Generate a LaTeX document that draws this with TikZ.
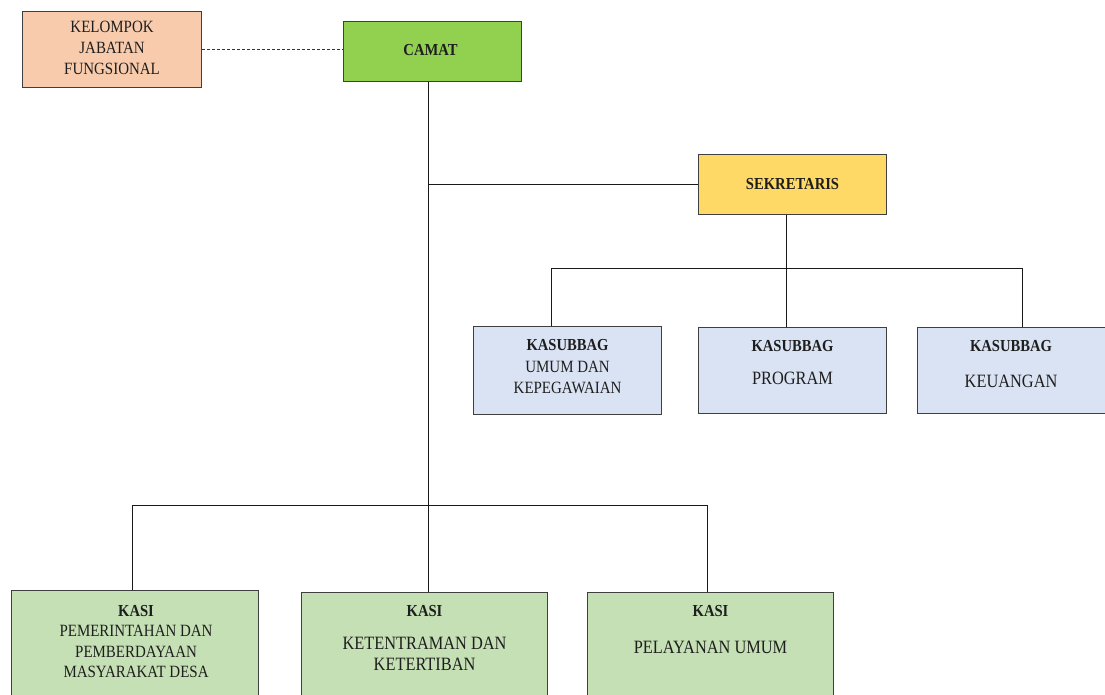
\documentclass[tikz,border=0pt]{standalone}
\usepackage{fontspec}
\setmainfont{Liberation Serif}[FakeStretch=0.87]
\usetikzlibrary{calc}
\definecolor{peach}{HTML}{F8CBAD}
\definecolor{camatgreen}{HTML}{92D050}
\definecolor{sekyellow}{HTML}{FFD966}
\definecolor{subblue}{HTML}{DAE3F3}
\definecolor{kasigreen}{HTML}{C5E0B4}
\definecolor{bordergray}{HTML}{3F3F3F}
\definecolor{txt}{HTML}{1E1E1E}
\begin{document}
\begin{tikzpicture}[x=1pt,y=-1pt,
  box/.style={draw=bordergray, line width=1.1pt, inner sep=0pt, anchor=north west},
  tb/.style={anchor=base, inner sep=0pt, text=txt, font=\fontsize{16.8}{19}\selectfont\bfseries},
  tr/.style={anchor=base, inner sep=0pt, text=txt, font=\fontsize{17.2}{19}\selectfont},
  tl/.style={anchor=base, inner sep=0pt, text=txt, font=\fontsize{18.8}{21}\selectfont},
  conn/.style={draw=black!90, line width=0.9pt},
  dashconn/.style={draw=black!80, line width=0.9pt, dash pattern=on 3pt off 2pt}]
\useasboundingbox (0,0) rectangle (1105,694);
\fill[white] (0,0) rectangle (1105,694);

% boxes
\node[box, fill=peach, minimum width=179pt, minimum height=76pt] (kjf) at (22,11) {};
\node[box, fill=camatgreen, minimum width=178pt, minimum height=60pt] (camat) at (343,21) {};
\node[box, fill=sekyellow, minimum width=188pt, minimum height=60pt] (sek) at (698,154) {};
\node[box, fill=subblue, minimum width=188pt, minimum height=88pt] (ksb1) at (473,326) {};
\node[box, fill=subblue, minimum width=188pt, minimum height=86pt] (ksb2) at (698,327) {};
\node[box, fill=subblue, minimum width=189pt, minimum height=86pt] (ksb3) at (917,327) {};
\node[box, fill=kasigreen, minimum width=247pt, minimum height=112pt] (kasi1) at (11,590) {};
\node[box, fill=kasigreen, minimum width=246pt, minimum height=110pt] (kasi2) at (301,592) {};
\node[box, fill=kasigreen, minimum width=246pt, minimum height=110pt] (kasi3) at (587,592) {};

% texts
\node[tr] (kjf1) at ($(kjf.north)+(0,21.5)$) {KELOMPOK};
\node[tr] (kjf2) at ($(kjf.north)+(0,42.5)$) {JABATAN};
\node[tr] (kjf3) at ($(kjf.north)+(0,63.5)$) {FUNGSIONAL};
\node[tb] (camat1) at ($(camat.north)+(-2,34)$) {CAMAT};
\node[tb] (sek1) at ($(sek.north)+(0,35)$) {SEKRETARIS};
\node[tb] (ksb1a) at ($(ksb1.north)+(0,24)$) {KASUBBAG};
\node[tr] (ksb1b) at ($(ksb1.north)+(0,46)$) {UMUM DAN};
\node[tr] (ksb1c) at ($(ksb1.north)+(0,67)$) {KEPEGAWAIAN};
\node[tb] (ksb2a) at ($(ksb2.north)+(0,24)$) {KASUBBAG};
\node[tl] (ksb2b) at ($(ksb2.north)+(0,57)$) {PROGRAM};
\node[tb] (ksb3a) at ($(ksb3.north)+(-1,24)$) {KASUBBAG};
\node[tl] (ksb3b) at ($(ksb3.north)+(-1,60)$) {KEUANGAN};
\node[tb] (kasi1a) at ($(kasi1.north)+(1,26)$) {KASI};
\node[tr] (kasi1b) at ($(kasi1.north)+(1,46.7)$) {PEMERINTAHAN DAN};
\node[tr] (kasi1c) at ($(kasi1.north)+(1,67)$) {PEMBERDAYAAN};
\node[tr] (kasi1d) at ($(kasi1.north)+(1,87.7)$) {MASYARAKAT DESA};
\node[tb] (kasi2a) at ($(kasi2.north)+(0,24.7)$) {KASI};
\node[tl] (kasi2b) at ($(kasi2.north)+(0,57)$) {KETENTRAMAN DAN};
\node[tl] (kasi2c) at ($(kasi2.north)+(0,78)$) {KETERTIBAN};
\node[tb] (kasi3a) at ($(kasi3.north)+(0,24.7)$) {KASI};
\node[tl] (kasi3b) at ($(kasi3.north)+(0,61)$) {PELAYANAN UMUM};

% junction coordinates
\coordinate (tx) at (428,0);
\coordinate (sx) at (786,0);
\coordinate (sekbar) at (0,268);
\coordinate (kasibar) at (0,505);
\coordinate (k1x) at (551,0);
\coordinate (k3x) at (1022,0);
\coordinate (q1x) at (132,0);
\coordinate (q3x) at (707,0);

% connectors
\draw[dashconn] (kjf.east) -- (kjf.east -| camat.west);
\draw[conn] (camat.south -| tx) -- (kasi2.north -| tx);
\draw[conn] (sek.west -| tx) -- (sek.west);
\draw[conn] (sek.south -| sx) -- (ksb2.north -| sx);
\draw[conn] (ksb1.north -| k1x) -- (sekbar -| k1x) -- (sekbar -| k3x) -- (ksb3.north -| k3x);
\draw[conn] (kasi1.north -| q1x) -- (kasibar -| q1x) -- (kasibar -| q3x) -- (kasi3.north -| q3x);
\end{tikzpicture}
\end{document}
